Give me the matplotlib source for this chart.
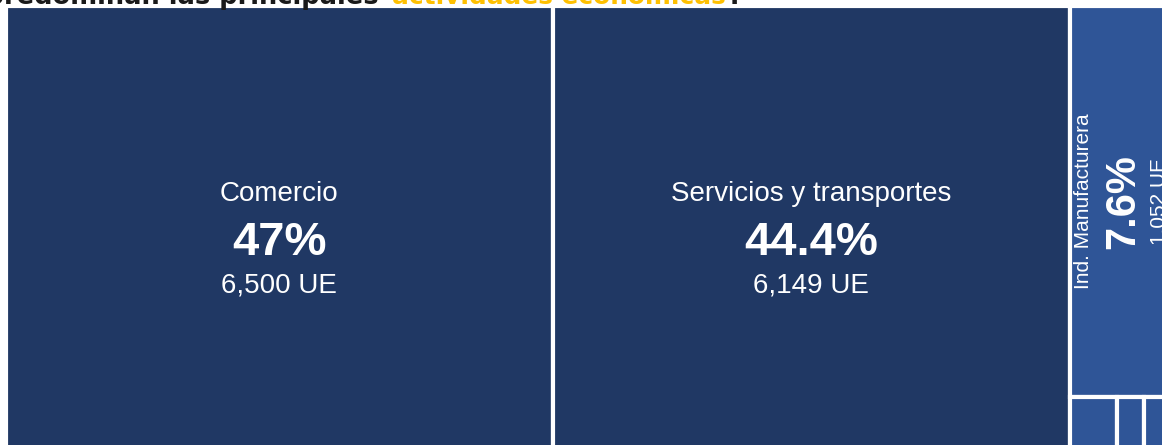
import matplotlib
matplotlib.use('Agg')
import matplotlib.pyplot as plt
from matplotlib.patches import Rectangle

# region Datos

sectores = ['Comercio', 'Servicios y transportes', 'Ind. Manufacturera',
            'Construcción', 'Agropecuario', 'Otros']
unidades = [6500, 6149, 1052, 66, 37, 37]       # unidades económicas (UE)
colores = ['#203864', '#203864', '#2F5597', '#2F5597', '#2F5597', '#2F5597']
con_etiqueta = [True, True, True, False, False, False]

titulo_inicio = '¿En qué sectores predominan las principales '
titulo_color = 'actividades económicas'
titulo_fin = '?'

# endregion

plt.rcParams['font.family'] = ['Liberation Sans', 'DejaVu Sans']

total = sum(unidades)

fig = plt.figure(figsize=(11.62, 4.45), dpi=100)
fig.patch.set_facecolor('white')

# el treemap se recorta por la derecha y por abajo, como en la captura
ax = fig.add_axes([6 / 1162, -4 / 445, 1164 / 1162, 443 / 445])
ax.set_xlim(0, total)
ax.set_ylim(1, 0)
ax.axis('off')

# layout: columnas para los dos sectores grandes, la última columna
# se divide entre Manufactura (arriba) y los sectores chicos (abajo)
resto = sum(unidades[2:])
x0 = 0
cajas = []
for valor in unidades[:2]:
    cajas.append((x0, 0, valor, 1))
    x0 += valor

alto_manu = unidades[2] / resto
cajas.append((x0, 0, resto, alto_manu))

xc = x0
chicos = sum(unidades[3:])
for valor in unidades[3:]:
    ancho = resto * valor / chicos
    cajas.append((xc, alto_manu, ancho, 1 - alto_manu))
    xc += ancho

for (x, y, w, h), color in zip(cajas, colores):
    ax.add_patch(Rectangle((x, y), w, h, facecolor=color, edgecolor='white',
                           linewidth=3, clip_on=False))

# etiquetas
for nombre, valor, (x, y, w, h), etiqueta in zip(sectores, unidades, cajas, con_etiqueta):
    if not etiqueta:
        continue
    pct = valor / total * 100
    texto_pct = f'{pct:.0f}%' if abs(pct - round(pct)) < 0.05 else f'{pct:.1f}%'
    texto_ue = f'{valor:,} UE'
    cx, cy = x + w / 2, y + h / 2

    if w / total * 1164 > h * 443:
        # caja ancha: texto horizontal
        for txt, dy, size, weight in [(nombre, 19, 20, 'normal'),
                                      (texto_pct, -20, 34, 'bold'),
                                      (texto_ue, -46.5, 20, 'normal')]:
            ax.annotate(txt, (cx, cy), xytext=(0, dy), textcoords='offset points',
                        ha='center', va='baseline', color='white',
                        fontsize=size, fontweight=weight, annotation_clip=False)
    else:
        # caja angosta: texto vertical
        for txt, dx, size, weight in [(nombre, -22, 15, 'normal'),
                                      (texto_pct, 10, 30, 'bold'),
                                      (texto_ue, 32, 15, 'normal')]:
            ax.annotate(txt, (cx, cy), xytext=(dx, 0), textcoords='offset points',
                        ha='center', va='baseline', rotation=90,
                        rotation_mode='anchor', color='white',
                        fontsize=size, fontweight=weight, annotation_clip=False)

# título (cortado arriba en la captura, solo se ve la parte baja)
base = 1 - 3.5 / 445
estilo = dict(va='baseline', fontweight='bold', family='DejaVu Sans')
fig.text(388 / 1162, base, titulo_inicio, ha='right', color='#1a1a1a',
         fontsize=18.5, **estilo)
fig.text(392 / 1162, base, titulo_color, ha='left', color='#FFC000',
         fontsize=17.8, **estilo)
fig.text(727 / 1162, base, titulo_fin, ha='left', color='#1a1a1a',
         fontsize=18.5, **estilo)

fig.savefig('out.png', dpi=100)
